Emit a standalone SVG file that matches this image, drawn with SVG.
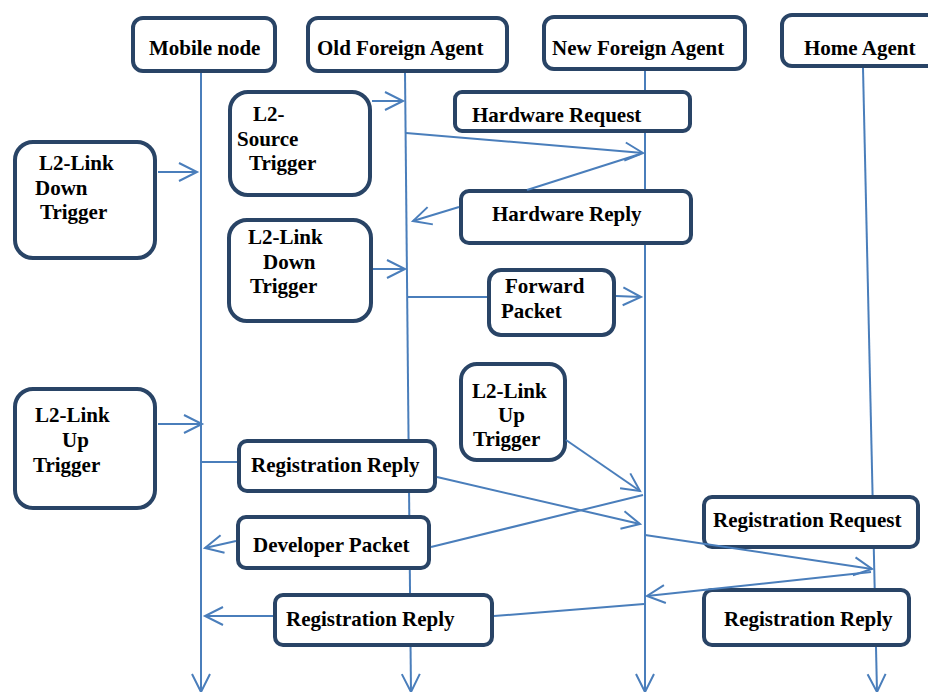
<svg xmlns="http://www.w3.org/2000/svg" width="928" height="692" viewBox="0 0 928 692">
<style>
.box{fill:#ffffff;stroke:#294466;stroke-width:4}
.t{font-family:"Liberation Serif","Times New Roman",serif;font-weight:bold;font-size:21px;fill:#000000}
.ln{fill:none;stroke:#4a7ebb;stroke-width:2}
</style>
<defs>
<marker id="arr" markerUnits="userSpaceOnUse" markerWidth="20" markerHeight="20" refX="0" refY="0" orient="auto" overflow="visible">
<path d="M-18,-9 L0,0 L-18,9" fill="none" stroke="#4a7ebb" stroke-width="2"/>
</marker>
</defs>
<rect width="928" height="692" fill="#ffffff"/>
<g id="lifelines">
<path class="ln" d="M201,72 L201,692" marker-end="url(#arr)"/>
<path class="ln" d="M405,72 L411,692" marker-end="url(#arr)"/>
<path class="ln" d="M645,71 L645,692" marker-end="url(#arr)"/>
<path class="ln" d="M863,68 L877,692" marker-end="url(#arr)"/>
</g>
<g id="mobile-node"><rect class="box" x="133" y="18" width="142" height="53" rx="10"/><text class="t" x="149" y="55">Mobile node</text></g>
<g id="old-foreign-agent"><rect class="box" x="308" y="18" width="199" height="53" rx="10"/><text class="t" x="317" y="55">Old Foreign Agent</text></g>
<g id="new-foreign-agent"><rect class="box" x="544" y="17" width="201" height="52" rx="10"/><text class="t" x="552" y="55">New Foreign Agent</text></g>
<g id="home-agent"><rect class="box" x="782" y="15" width="160" height="51" rx="10"/><text class="t" x="804" y="55">Home Agent</text></g>
<g id="l2-source-trigger"><rect class="box" x="230" y="92" width="140" height="103" rx="18"/><text class="t"><tspan x="253" y="121">L2-</tspan><tspan x="237" y="146">Source</tspan><tspan x="249" y="170">Trigger</tspan></text></g>
<g id="hardware-request"><rect class="box" x="455" y="92" width="235" height="39" rx="7"/><text class="t" x="472" y="122">Hardware Request</text></g>
<g id="hardware-reply"><rect class="box" x="461" y="191" width="230" height="52" rx="8"/><text class="t" x="492" y="221">Hardware Reply</text></g>
<g id="l2-link-down-left"><rect class="box" x="15" y="142" width="140" height="116" rx="18"/><text class="t"><tspan x="39" y="170">L2-Link</tspan><tspan x="35" y="195">Down</tspan><tspan x="40" y="219">Trigger</tspan></text></g>
<g id="l2-link-down-mid"><rect class="box" x="229" y="220" width="142" height="101" rx="18"/><text class="t"><tspan x="248" y="244">L2-Link</tspan><tspan x="263" y="269">Down</tspan><tspan x="250" y="293">Trigger</tspan></text></g>
<g id="forward-packet"><rect class="box" x="489" y="270" width="125" height="65" rx="12"/><text class="t"><tspan x="505" y="293">Forward</tspan><tspan x="501" y="318">Packet</tspan></text></g>
<g id="l2-link-up-mid"><rect class="box" x="461" y="364" width="104" height="96" rx="16"/><text class="t"><tspan x="472" y="398">L2-Link</tspan><tspan x="498" y="422">Up</tspan><tspan x="473" y="446">Trigger</tspan></text></g>
<g id="l2-link-up-left"><rect class="box" x="15" y="389" width="140" height="119" rx="18"/><text class="t"><tspan x="35" y="422">L2-Link</tspan><tspan x="62" y="447">Up</tspan><tspan x="33" y="472">Trigger</tspan></text></g>
<g id="registration-reply-1"><rect class="box" x="239" y="441" width="196" height="50" rx="8"/><text class="t" x="251" y="472">Registration Reply</text></g>
<g id="developer-packet"><rect class="box" x="238" y="517" width="191" height="51" rx="8"/><text class="t" x="253" y="552">Developer Packet</text></g>
<g id="registration-reply-2"><rect class="box" x="275" y="595" width="217" height="50" rx="8"/><text class="t" x="286" y="626">Registration Reply</text></g>
<g id="registration-request"><rect class="box" x="704" y="497" width="214" height="50" rx="8"/><text class="t" x="713" y="527">Registration Request</text></g>
<g id="registration-reply-3"><rect class="box" x="704" y="590" width="205" height="55" rx="8"/><text class="t" x="724" y="626">Registration Reply</text></g>
<g id="connectors">
<path class="ln" d="M158,172 L197,172" marker-end="url(#arr)"/>
<path class="ln" d="M372,101 L403,101" marker-end="url(#arr)"/>
<path class="ln" d="M406,133 L643,153" marker-end="url(#arr)"/>
<path class="ln" d="M527,190 L640,154"/>
<path class="ln" d="M459,207 L413,221" marker-end="url(#arr)"/>
<path class="ln" d="M373,269 L405,269" marker-end="url(#arr)"/>
<path class="ln" d="M408,297 L487,297"/>
<path class="ln" d="M616,296 L641,297" marker-end="url(#arr)"/>
<path class="ln" d="M158,424 L202,424" marker-end="url(#arr)"/>
<path class="ln" d="M201,462 L237,462"/>
<path class="ln" d="M566,440 L640,491" marker-end="url(#arr)"/>
<path class="ln" d="M437,477 L640,524" marker-end="url(#arr)"/>
<path class="ln" d="M643,495 L431,547"/>
<path class="ln" d="M236,541 L205,548" marker-end="url(#arr)"/>
<path class="ln" d="M645,535 L872,569" marker-end="url(#arr)"/>
<path class="ln" d="M871,572 L647,596" marker-end="url(#arr)"/>
<path class="ln" d="M644,604 L494,616"/>
<path class="ln" d="M273,616 L205,616" marker-end="url(#arr)"/>
</g>
</svg>
